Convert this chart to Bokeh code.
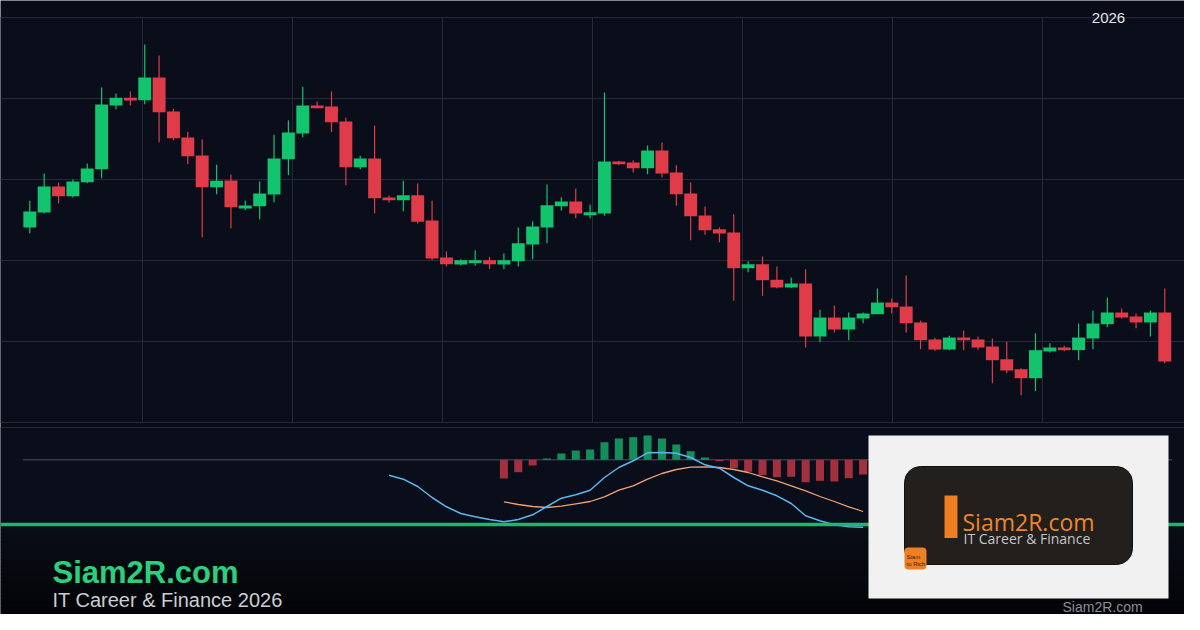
from bokeh.plotting import figure
from bokeh.models import Range1d, ColumnDataSource
from bokeh.embed import file_html
from bokeh.resources import INLINE
from bokeh.core.properties import value

# ---------------- data ----------------
opens = [124.07, 125.93, 129.14, 127.94, 129.67, 131.27, 139.14, 140.09, 139.79, 142.59,
         138.40, 135.19, 132.96, 129.05, 129.88, 126.42, 126.70, 128.15, 132.51, 135.68,
         139.14, 139.01, 137.16, 131.52, 132.59, 127.78, 127.44, 128.06, 124.94, 120.37,
         119.51, 119.67, 120.04, 119.51, 119.91, 121.98, 124.07, 126.70, 127.28, 125.59,
         125.80, 132.22, 132.10, 131.40, 133.58, 130.86, 128.27, 125.56, 123.86, 123.46,
         119.05, 119.54, 117.62, 116.67, 117.16, 110.62, 112.96, 111.48, 112.84, 113.37,
         114.81, 114.32, 112.35, 110.25, 109.01, 110.49, 110.25, 109.38, 107.81, 106.58,
         105.47, 108.77, 109.26, 108.93, 110.37, 112.14, 113.58, 113.09, 112.35, 113.58]
highs = [127.37, 130.74, 129.63, 130.00, 131.98, 141.36, 140.62, 140.86, 146.67, 145.31,
         138.73, 135.89, 134.94, 131.81, 130.62, 127.37, 129.75, 135.52, 137.28, 141.44,
         139.63, 140.86, 137.65, 132.93, 136.63, 128.02, 129.84, 129.51, 127.37, 121.11,
         120.16, 121.27, 120.46, 120.86, 124.07, 124.85, 129.38, 127.81, 128.89, 126.91,
         140.74, 132.31, 132.38, 134.20, 134.57, 131.77, 129.63, 126.67, 124.07, 125.72,
         119.91, 120.49, 119.26, 117.90, 118.93, 113.91, 114.44, 113.58, 113.58, 116.54,
         115.31, 118.15, 112.59, 110.46, 110.70, 111.36, 110.62, 110.37, 109.96, 106.70,
         111.02, 109.79, 109.47, 112.22, 113.83, 115.43, 114.07, 113.46, 113.83, 116.54]
lows = [123.37, 125.80, 127.04, 127.78, 129.54, 130.16, 138.68, 139.14, 139.30, 134.60,
        134.85, 131.89, 122.88, 128.19, 123.99, 126.21, 125.10, 127.20, 130.53, 135.22,
        138.80, 135.84, 129.30, 131.27, 125.84, 127.16, 126.09, 124.57, 120.04, 119.26,
        119.42, 119.35, 118.93, 118.93, 119.26, 120.16, 122.14, 126.17, 125.22, 125.19,
        125.52, 131.77, 130.86, 130.65, 130.25, 126.75, 122.51, 123.17, 122.26, 115.02,
        118.56, 115.64, 116.58, 116.60, 109.26, 109.91, 111.11, 110.16, 112.26, 113.37,
        113.46, 111.11, 109.05, 108.85, 108.93, 108.93, 108.98, 104.85, 106.09, 103.37,
        103.86, 108.64, 108.80, 107.69, 109.05, 111.77, 112.84, 111.64, 110.62, 107.32]
closes = [126.05, 129.14, 127.94, 129.75, 131.36, 139.26, 140.09, 139.75, 142.59, 138.31,
          135.10, 132.88, 129.05, 129.84, 126.58, 126.79, 128.27, 132.59, 135.80, 139.14,
          138.80, 137.07, 131.52, 132.59, 127.69, 127.44, 128.06, 124.78, 120.25, 119.54,
          120.04, 120.04, 119.54, 120.04, 122.14, 124.20, 126.83, 127.28, 125.80, 125.96,
          132.22, 131.89, 131.40, 133.58, 130.74, 128.19, 125.47, 123.74, 123.33, 119.05,
          119.54, 117.57, 116.67, 117.16, 110.62, 112.96, 111.48, 112.96, 113.46, 114.81,
          114.23, 112.26, 110.16, 109.01, 110.49, 110.16, 109.26, 107.69, 106.42, 105.47,
          108.93, 109.26, 108.93, 110.49, 112.22, 113.58, 112.96, 112.35, 113.58, 107.53]

macd_start = 25
macd_line = [-1.54, -1.94, -2.67, -3.77, -4.70, -5.37, -5.70, -5.97, -6.20, -5.97,
             -5.50, -4.67, -3.84, -3.50, -3.04, -1.77, -0.77, -0.10, 0.70, 0.73,
             0.66, 0.23, -0.50, -0.84, -1.77, -2.60, -3.04, -3.60, -4.37, -5.60,
             -6.10, -6.50, -6.70, -6.74]
signal_start = 33
signal_line = [-4.20, -4.47, -4.67, -4.77, -4.64, -4.40, -4.17, -3.70, -3.04, -2.60,
               -1.94, -1.37, -0.97, -0.74, -0.70, -0.77, -0.97, -1.27, -1.70, -2.10,
               -2.60, -3.10, -3.67, -4.17, -4.70, -5.17]
histogram = [-1.87, -1.24, -0.57, 0.13, 0.63, 0.93, 1.03, 1.76, 2.13, 2.26,
             2.43, 2.13, 1.53, 0.86, 0.23, -0.14, -0.84, -1.20, -1.54, -1.74,
             -1.70, -2.24, -2.10, -2.17, -1.84, -1.47]

price_levels = [100, 110, 120, 130, 140, 150]
year_label = "2026"
brand = "Siam2R.com"
tagline = "IT Career & Finance 2026"
logo_title = "Siam2R.com"
logo_sub = "IT Career & Finance"
badge_lines = ["Siam", "to Rich"]

# ---------------- styles ----------------
BG_TOP = "#090c16"
BG_CHART = "#0a0e1a"
GRID = "#252a39"
UP = "#11c46d"
DOWN = "#e03b49"
H_UP = "#148f5c"
H_DOWN = "#a2303d"
MACD_C = "#5cb6ee"
SIG_C = "#f0a074"
FONT = "Liberation Sans"

W, H = 1184, 614
p = figure(width=W, height=H, output_backend="svg", toolbar_location=None,
           x_axis_type=None, y_axis_type=None, min_border=0,
           x_range=Range1d(8, 1192), y_range=Range1d(622, 8))
p.grid.visible = False
p.outline_line_color = None
p.background_fill_color = BG_TOP
p.border_fill_color = BG_TOP

# data ranges mapped onto page pixels
p.extra_x_ranges = {"idx": Range1d(-2.039, 80.372)}
p.extra_y_ranges = {"price": Range1d(76.297, 152.099), "macd": Range1d(-15.47, 45.93)}

# panel backgrounds
p.quad(left=8, right=1192, top=25, bottom=430, fill_color=BG_CHART, line_color=None)
p.quad(left=8, right=1192, top=435, bottom=534, fill_color=BG_CHART, line_color=None)
# banner gradient
n = 24
c0, c1 = (10, 13, 23), (3, 4, 7)
for k in range(n):
    t = k / (n - 1)
    col = "#%02x%02x%02x" % tuple(int(round(a + (b - a) * t)) for a, b in zip(c0, c1))
    p.quad(left=8, right=1192, top=534 + k * 88 / n, bottom=534 + (k + 1) * 88 / n + 0.5,
           fill_color=col, line_color=None)

# grid
p.segment(x0=8, x1=1192, y0=price_levels, y1=price_levels, line_color=GRID, line_width=1,
          y_range_name="price")
vx = [150, 300, 450, 600, 750, 900, 1050]
p.segment(x0=vx, x1=vx, y0=25, y1=430, line_color=GRID, line_width=1)
p.segment(x0=8, x1=1192, y0=435, y1=435, line_color=GRID, line_width=1)

# candles
idx = list(range(len(opens)))
up = [c >= o for o, c in zip(opens, closes)]
src = ColumnDataSource(dict(
    x=idx, high=highs, low=lows,
    top=[max(o, c) for o, c in zip(opens, closes)],
    bottom=[min(o, c) for o, c in zip(opens, closes)],
    color=[UP if u else DOWN for u in up]))
p.segment(x0="x", x1="x", y0="high", y1="low", line_color="color", line_width=1.2,
          source=src, x_range_name="idx", y_range_name="price")
p.vbar(x="x", width=0.9, top="top", bottom="bottom", fill_color="color", line_color=None,
       source=src, x_range_name="idx", y_range_name="price")

# MACD panel
p.segment(x0=idx[0] - 0.5, x1=idx[-1] + 0.5, y0=0, y1=0, line_color="#4b5162", line_width=1,
          x_range_name="idx", y_range_name="macd")
hx = [signal_start + i for i in range(len(histogram))]
p.vbar(x=hx, top=histogram, bottom=0, width=0.56,
       fill_color=[H_UP if v >= 0 else H_DOWN for v in histogram], line_color=None,
       x_range_name="idx", y_range_name="macd")
p.line(x=[signal_start + i for i in range(len(signal_line))], y=signal_line,
       line_color=SIG_C, line_width=1.3, x_range_name="idx", y_range_name="macd")
p.line(x=[macd_start + i for i in range(len(macd_line))], y=macd_line,
       line_color=MACD_C, line_width=1.5, x_range_name="idx", y_range_name="macd")

# green divider
p.segment(x0=8, x1=1192, y0=532, y1=532, line_color="#1fb670", line_width=3.6)

# texts
p.text(x=[1116], y=[25.5], text=[year_label], text_font=value(FONT), text_font_size="15px",
       text_color="#e4e6ea", text_align="center", text_baseline="alphabetic")
p.text(x=[60], y=[580], text=[brand], text_font=value(FONT), text_font_size="31px",
       text_font_style="bold", text_color="#2ad07e", text_baseline="alphabetic")
p.text(x=[60], y=[607], text=[tagline], text_font=value(FONT), text_font_size="20px",
       text_color="#c9cdd4", text_baseline="alphabetic")

# logo card
p.quad(left=876, right=1176, top=443, bottom=606, fill_color="#f1f1f1", line_color=None)
p.quad(left=912, right=1140, top=474, bottom=572, fill_color="#221f1d", line_color="#111111",
       line_width=1, border_radius=16)
p.quad(left=952, right=965, top=503, bottom=545.5, fill_color="#f07f22", line_color=None)
p.text(x=[970], y=[529], text=[logo_title], text_font=value("Open Sans"), text_font_size="23px",
       text_color="#f0862a", text_baseline="alphabetic")
p.text(x=[971], y=[545.5], text=[logo_sub], text_font=value("Open Sans"), text_font_size="14px",
       text_color="#c6c6c6", text_baseline="alphabetic")
p.quad(left=912, right=934, top=555, bottom=577, fill_color="#ee7f22", line_color=None,
       border_radius=4)
p.text(x=[914], y=[564], text=[badge_lines[0]], text_font=value(FONT),
       text_font_size="6px", text_color="#3a1f0a", text_baseline="alphabetic")
p.text(x=[914], y=[571], text=[badge_lines[1]], text_font=value(FONT),
       text_font_size="6px", text_color="#3a1f0a", text_baseline="alphabetic")

# footer url
p.text(x=[1070], y=[614], text=[brand], text_font=value(FONT), text_font_size="14px",
       text_color="#8b8f97", text_baseline="alphabetic")

open("out.html", "w").write(file_html(p, INLINE))
